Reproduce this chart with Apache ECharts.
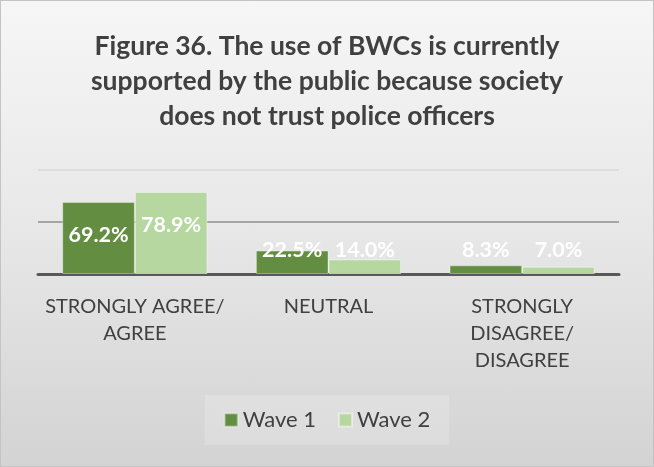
<!DOCTYPE html>
<html>
<head>
<meta charset="utf-8">
<script src="https://cdn.jsdelivr.net/npm/echarts@6/dist/echarts.min.js"></script>
<style>
  html, body { margin: 0; padding: 0; }
  #chart {
    width: 654px; height: 467px; box-sizing: border-box;
    border: 1px solid #c4c4c4;
    background: linear-gradient(to bottom, #f6f6f6 0%, #e9e9e9 45%, #d3d3d3 100%);
  }
</style>
</head>
<body>
<div id="chart"></div>
<script>
// Survey answers, percent of respondents
const categories = ['STRONGLY AGREE/\nAGREE', 'NEUTRAL', 'STRONGLY\nDISAGREE/\nDISAGREE'];
const wave1 = [69.2, 22.5, 8.3];
const wave2 = [78.9, 14.0, 7.0];
const seriesNames = ['Wave 1', 'Wave 2'];
const titleText = 'Figure 36. The use of BWCs is currently\nsupported by the public because society\ndoes not trust police officers';

const FONT = 'Lato';

// Tall bars carry the value just inside the top; short ones sit just above the axis
function withLabels(values) {
  return values.map(v => ({
    value: v,
    label: v > 40
      ? { position: 'insideTop', distance: 22 }
      : { position: 'insideBottom', distance: 13 }
  }));
}

const chart = echarts.init(document.getElementById('chart'), null, { renderer: 'canvas' });
chart.setOption({
  backgroundColor: 'transparent',
  animation: false,
  title: {
    text: titleText,
    left: 'center',
    top: 23,
    textStyle: {
      fontFamily: FONT, fontWeight: 'bold', fontSize: 26.5, lineHeight: 35, color: '#404040'
    }
  },
  grid: { left: 37, right: 34, top: 169, bottom: 192, containLabel: false },
  xAxis: {
    type: 'category',
    data: categories,
    axisTick: { show: false },
    axisLine: { lineStyle: { color: '#595959', width: 3 } },
    axisLabel: {
      interval: 0, margin: 19, color: '#404040',
      fontFamily: FONT, fontSize: 20, lineHeight: 27, align: 'center'
    }
  },
  yAxis: {
    type: 'value', min: 0, max: 100, interval: 50,
    axisLabel: { show: false },
    axisLine: { show: false },
    axisTick: { show: false },
    splitLine: { lineStyle: { color: ['#595959', '#8f8f8f', '#d8d8d8'], width: 1.5 } }
  },
  legend: {
    data: seriesNames,
    bottom: 21,
    left: 'center',
    itemWidth: 13, itemHeight: 13, itemGap: 22,
    icon: 'rect',
    padding: [14, 19, 14, 19],
    backgroundColor: 'rgba(255,255,255,0.18)',
    textStyle: { fontFamily: FONT, fontSize: 22, color: '#404040' }
  },
  series: [
    {
      name: seriesNames[0], type: 'bar', data: withLabels(wave1),
      barCategoryGap: '25%', barGap: '0%',
      itemStyle: { color: '#638e41', borderColor: 'rgba(255,255,255,0.35)', borderWidth: 1 },
      label: { show: true, formatter: p => p.value.toFixed(1) + '%', color: '#ffffff',
               fontFamily: FONT, fontWeight: 'bold', fontSize: 21.5 }
    },
    {
      name: seriesNames[1], type: 'bar', data: withLabels(wave2),
      barCategoryGap: '25%', barGap: '0%',
      itemStyle: { color: '#b6d79f', borderColor: 'rgba(255,255,255,0.45)', borderWidth: 1 },
      label: { show: true, formatter: p => p.value.toFixed(1) + '%', color: '#ffffff',
               fontFamily: FONT, fontWeight: 'bold', fontSize: 21.5 }
    }
  ]
});
</script>
</body>
</html>
